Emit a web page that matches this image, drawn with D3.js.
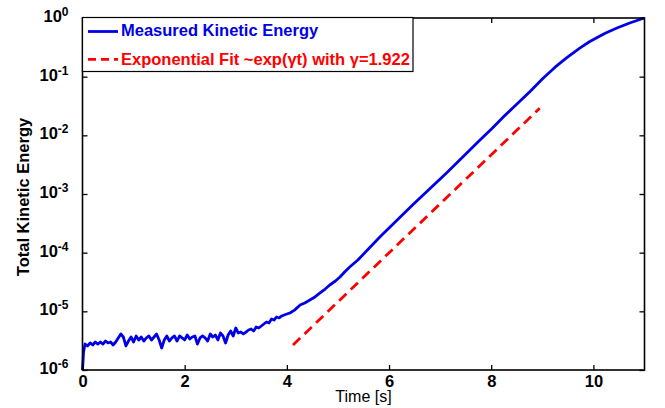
<!DOCTYPE html>
<html>

<head>
    <script src="https://d3js.org/d3.v7.min.js"></script>
    <title>Kinetic Energy Growth</title>
    <meta charset="UTF-8">
    <style type="text/css">
        body { margin: 0; background: #fff; }
        text { font-family: "Liberation Sans", Arial, Helvetica, sans-serif; }
    </style>
</head>

<body>
    <script type="text/javascript">
        // measured kinetic energy
        var times = [0.00, 0.02, 0.05, 0.10, 0.15, 0.20, 0.25, 0.30, 0.35, 0.40, 0.45, 0.50, 0.55, 0.60, 0.65,
            0.70, 0.75, 0.80, 0.85, 0.90, 0.95, 1.00, 1.05, 1.10, 1.15, 1.20, 1.25, 1.30, 1.35, 1.40, 1.45,
            1.50, 1.55, 1.60, 1.65, 1.70, 1.75, 1.80, 1.85, 1.90, 1.95, 2.00, 2.05, 2.10, 2.15, 2.20, 2.25,
            2.30, 2.35, 2.40, 2.45, 2.50, 2.55, 2.60, 2.65, 2.70, 2.75, 2.80, 2.85, 2.90, 2.95, 3.00, 3.05,
            3.10, 3.15, 3.20, 3.25, 3.30, 3.35, 3.40, 3.45, 3.50, 3.55, 3.60, 3.65, 3.70, 3.75, 3.80, 3.85,
            3.90, 3.95, 4.00, 4.06, 4.15, 4.26, 4.35, 4.45, 4.55, 4.65, 4.75, 4.84, 4.95, 5.04, 5.13, 5.23,
            5.39, 5.82, 6.47, 7.13, 7.78, 8.01, 8.27, 8.56, 8.76, 9.01, 9.25, 9.48, 9.74, 9.93, 10.23, 10.46,
            10.71, 10.91, 11.00];

        var energy = [1.0e-6, 2.0e-6, 2.77e-6, 2.57e-6, 2.89e-6, 2.67e-6, 3.00e-6, 2.77e-6, 3.00e-6, 2.77e-6, 3.12e-6, 2.89e-6, 3.00e-6, 2.67e-6, 3.00e-6,
            3.52e-6, 4.11e-6, 3.65e-6, 2.57e-6, 3.12e-6, 3.65e-6, 3.00e-6, 3.80e-6, 3.25e-6, 3.65e-6, 3.12e-6, 3.52e-6, 3.80e-6, 3.25e-6, 3.65e-6, 4.11e-6,
            3.25e-6, 2.37e-6, 3.25e-6, 3.80e-6, 3.12e-6, 3.52e-6, 3.80e-6, 3.12e-6, 3.80e-6, 3.52e-6, 3.25e-6, 3.95e-6, 3.38e-6, 3.65e-6, 3.80e-6, 2.77e-6,
            3.52e-6, 3.80e-6, 3.52e-6, 3.12e-6, 4.11e-6, 3.65e-6, 3.95e-6, 3.25e-6, 4.27e-6, 3.80e-6, 2.89e-6, 3.95e-6, 4.62e-6, 3.80e-6, 5.20e-6, 4.27e-6,
            4.44e-6, 4.11e-6, 4.44e-6, 4.81e-6, 5.00e-6, 4.62e-6, 5.41e-6, 5.20e-6, 5.62e-6, 6.08e-6, 6.58e-6, 6.33e-6, 7.41e-6, 7.12e-6, 8.02e-6, 7.71e-6,
            8.34e-6, 8.67e-6, 9.0e-6, 9.37e-6, 1.05e-5, 1.28e-5, 1.39e-5, 1.56e-5, 1.76e-5, 2.06e-5, 2.40e-5, 2.81e-5, 3.29e-5, 3.85e-5, 4.69e-5, 5.70e-5,
            7.50e-5, 1.85e-4, 6.6e-4, 2.3e-3, 8.3e-3, 1.30e-2, 2.19e-2, 3.8e-2, 5.6e-2, 9.3e-2, 0.145, 0.211, 0.309, 0.398, 0.55, 0.676,
            0.822, 0.944, 1.0];

        // exponential fit endpoints (straight line on the log axis), gamma = 1.922
        var fitTimes = [4.12, 8.95];
        var fitValues = [2.67e-6, 2.9e-2];

        var xTicks = [0, 2, 4, 6, 8, 10];
        var yTicks = [1e-6, 1e-5, 1e-4, 1e-3, 1e-2, 1e-1, 1];

        var legendLabels = ["Measured Kinetic Energy", "Exponential Fit ~exp(\u03b3t) with \u03b3=1.922"];

        //set margins, height and width
        var margin = { top: 18, bottom: 38, left: 82.5, right: 20.5 },
            width = 665 - margin.left - margin.right,
            height = 408 - margin.top - margin.bottom;

        var blue = "#0000e8", red = "#ff0000";

        var x = d3.scaleLinear().domain([0, 11]).range([0, width]);
        var y = d3.scaleLog().domain([1e-6, 1]).range([height, 0]);

        var svg = d3.select("body")
            .append("svg")
            .attr("width", 665)
            .attr("height", 408)
            .append("g")
            .attr("transform", "translate(" + margin.left + "," + margin.top + ")");

        //lines
        var data = times.map(function (t, i) { return [t, energy[i]]; });
        var fitData = fitTimes.map(function (t, i) { return [t, fitValues[i]]; });

        var line = d3.line()
            .x(function (d) { return x(d[0]); })
            .y(function (d) { return y(d[1]); });

        svg.append("path")
            .attr("d", line(data))
            .attr("fill", "none")
            .attr("stroke", blue)
            .attr("stroke-width", 2.8)
            .attr("stroke-linejoin", "round");

        svg.append("path")
            .attr("d", line(fitData))
            .attr("fill", "none")
            .attr("stroke", red)
            .attr("stroke-width", 2.8)
            .attr("stroke-dasharray", "10,6");

        //axes with inward ticks on all four sides
        var xAxis = d3.axisBottom(x).tickValues(xTicks).tickSizeInner(-5).tickSizeOuter(0).tickPadding(5);
        var yAxis = d3.axisLeft(y).tickValues(yTicks).tickSizeInner(-5).tickSizeOuter(0).tickPadding(14)
            .tickFormat(function () { return ""; });

        var gx = svg.append("g")
            .attr("transform", "translate(0," + height + ")")
            .call(xAxis);

        var gy = svg.append("g").call(yAxis);

        svg.append("g")
            .call(d3.axisTop(x).tickValues(xTicks).tickSizeInner(-5).tickSizeOuter(0).tickFormat(""));
        svg.append("g")
            .attr("transform", "translate(" + width + ",0)")
            .call(d3.axisRight(y).tickValues(yTicks).tickSizeInner(-5).tickSizeOuter(0).tickFormat(""));

        svg.selectAll(".domain").remove();
        svg.selectAll(".tick line").attr("stroke", "#000").attr("stroke-width", 1.3);

        gx.selectAll(".tick text")
            .attr("fill", "#000")
            .style("font-size", "16.5px")
            .style("font-weight", "bold");

        // 10^n labels
        gy.selectAll(".tick text")
            .attr("fill", "#000")
            .attr("dy", "3.5")
            .style("font-size", "16.5px")
            .style("font-weight", "bold")
            .each(function (d) {
                var t = d3.select(this);
                t.append("tspan").text("10");
                t.append("tspan")
                    .attr("dy", -6)
                    .style("font-size", "12px")
                    .text(Math.round(Math.log10(d)));
            });

        // frame
        svg.append("rect")
            .attr("width", width)
            .attr("height", height)
            .attr("fill", "none")
            .attr("stroke", "#000")
            .attr("stroke-width", 1.6);

        // axis titles
        svg.append("text")
            .attr("x", width / 2)
            .attr("y", height + 32)
            .attr("text-anchor", "middle")
            .style("font-size", "16px")
            .text("Time [s]");

        svg.append("text")
            .attr("transform", "rotate(-90)")
            .attr("x", -(height / 2) - 3)
            .attr("y", 29 - margin.left)
            .attr("text-anchor", "middle")
            .style("font-size", "16.5px")
            .style("font-weight", "bold")
            .text("Total Kinetic Energy");

        // legend
        var legend = svg.append("g");

        legend.append("rect")
            .attr("x", 0)
            .attr("y", -0.5)
            .attr("width", 330.5)
            .attr("height", 54)
            .attr("fill", "#fff")
            .attr("stroke", "#000")
            .attr("stroke-width", 1.2);

        var legendColors = [blue, red];
        var legendDash = [null, "8,5"];
        var legendY = [13.5, 41.3];

        legendLabels.forEach(function (label, i) {
            legend.append("line")
                .attr("x1", 5.5)
                .attr("x2", 35.5)
                .attr("y1", legendY[i])
                .attr("y2", legendY[i])
                .attr("stroke", legendColors[i])
                .attr("stroke-width", 2.8)
                .attr("stroke-dasharray", legendDash[i]);

            legend.append("text")
                .attr("x", 38.5)
                .attr("y", legendY[i] + 4.8 + (i ? 0.7 : 0))
                .attr("fill", legendColors[i])
                .style("font-size", "16.5px")
                .style("font-weight", "bold")
                .text(label);
        });
    </script>
</body>

</html>
